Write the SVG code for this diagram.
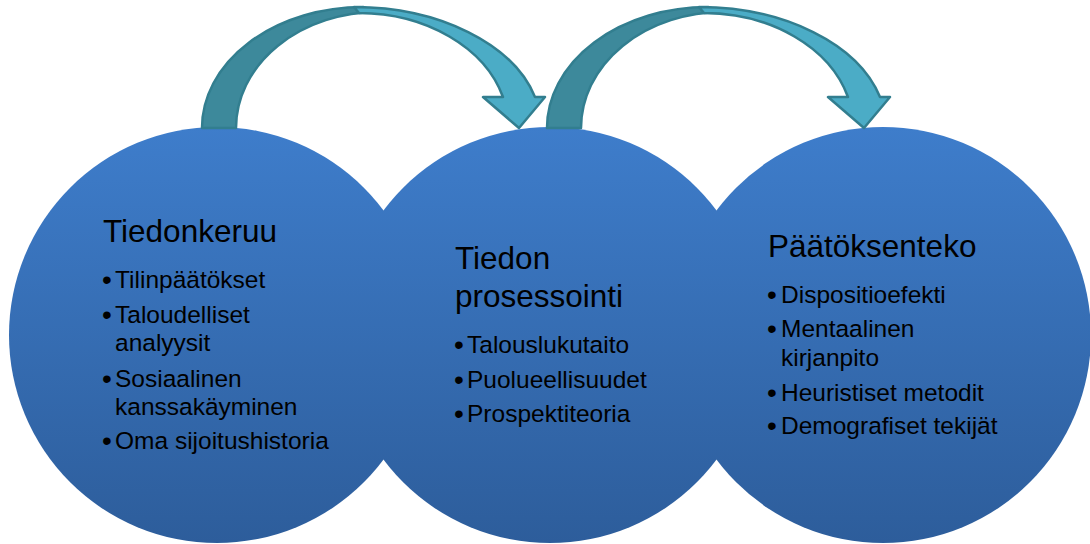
<svg xmlns="http://www.w3.org/2000/svg" width="1090" height="544" viewBox="0 0 1090 544">
<defs>
<linearGradient id="cg" x1="0" y1="0" x2="0" y2="1">
<stop offset="0" stop-color="#3e7dcb"/>
<stop offset="1" stop-color="#2d5d9b"/>
</linearGradient>
<g id="arrow">
<path class="back" d="M202,128 A161,121 0 0 1 363,7 L378,12 A142,116 0 0 0 236,128 Z"/>
<path class="front" d="M354,7 A187,121 0 0 1 535,97 L545,97 L519,128 L483,97 L503,97 A150,115 0 0 0 359,13 Z"/>
</g>
</defs>
<style>
.circle{fill:url(#cg);}
.back{fill:#3d899b;stroke:#327e8f;stroke-width:2.5;stroke-linejoin:round;}
.front{fill:#4bacc6;stroke:#327e8f;stroke-width:2.5;stroke-linejoin:round;}
text{font-family:"Liberation Sans",Arial,sans-serif;fill:#000;}
.title{font-size:31.5px;}
.item{font-size:24.5px;}
.bul{font-size:28px;}
</style>
<rect width="1090" height="544" fill="#fff"/>
<g id="node-tiedonkeruu">
<circle class="circle" cx="217" cy="335" r="208"/>
</g>
<g id="node-tiedon-prosessointi">
<circle class="circle" cx="550" cy="335" r="208"/>
</g>
<g id="node-paatoksenteko">
<circle class="circle" cx="883" cy="335" r="208"/>
</g>
<g id="connectors">
<use href="#arrow"/>
<use href="#arrow" transform="translate(345,0)"/>
</g>
<g id="labels-tiedonkeruu">
<text class="title" x="103" y="242">Tiedonkeruu</text>
<text class="bul" x="102" y="289">•</text><text class="item" x="115" y="288">Tilinpäätökset</text>
<text class="bul" x="102" y="324">•</text><text class="item" x="115" y="323">Taloudelliset</text>
<text class="item" x="115" y="351">analyysit</text>
<text class="bul" x="102" y="388">•</text><text class="item" x="115" y="387">Sosiaalinen</text>
<text class="item" x="115" y="415">kanssakäyminen</text>
<text class="bul" x="102" y="450">•</text><text class="item" x="115" y="449">Oma sijoitushistoria</text>
</g>
<g id="labels-tiedon-prosessointi">
<text class="title" x="455" y="269">Tiedon</text>
<text class="title" x="455" y="307">prosessointi</text>
<text class="bul" x="454" y="354">•</text><text class="item" x="467" y="353">Talouslukutaito</text>
<text class="bul" x="454" y="389">•</text><text class="item" x="467" y="388">Puolueellisuudet</text>
<text class="bul" x="454" y="423">•</text><text class="item" x="467" y="422">Prospektiteoria</text>
</g>
<g id="labels-paatoksenteko">
<text class="title" x="768" y="257">Päätöksenteko</text>
<text class="bul" x="767" y="304">•</text><text class="item" x="781" y="303">Dispositioefekti</text>
<text class="bul" x="767" y="338">•</text><text class="item" x="781" y="337">Mentaalinen</text>
<text class="item" x="781" y="366">kirjanpito</text>
<text class="bul" x="767" y="402">•</text><text class="item" x="781" y="401">Heuristiset metodit</text>
<text class="bul" x="767" y="435">•</text><text class="item" x="781" y="434">Demografiset tekijät</text>
</g>
</svg>
